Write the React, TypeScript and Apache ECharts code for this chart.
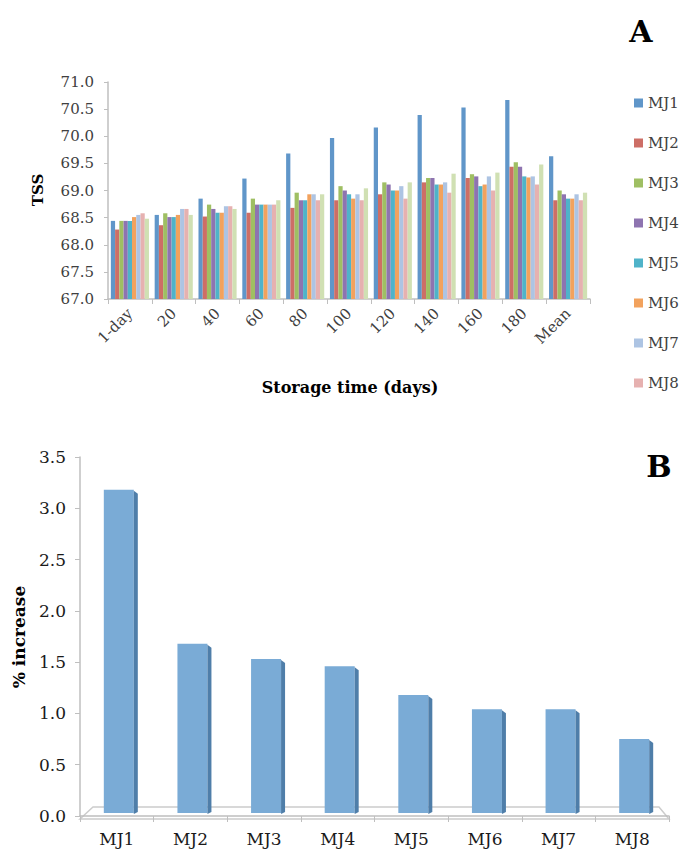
import React, { useEffect, useRef } from 'react';
import * as echarts from 'echarts';

// ---- Chart A data ----
const categoriesA = ['1-day', '20', '40', '60', '80', '100', '120', '140', '160', '180', 'Mean'];
const seriesNamesA = ['MJ1', 'MJ2', 'MJ3', 'MJ4', 'MJ5', 'MJ6', 'MJ7', 'MJ8', 'MJ9'];
const legendNamesA = ['MJ1', 'MJ2', 'MJ3', 'MJ4', 'MJ5', 'MJ6', 'MJ7', 'MJ8'];
const MJ1 = [68.44, 68.55, 68.85, 69.22, 69.68, 69.97, 70.16, 70.39, 70.53, 70.67, 69.63];
const MJ2 = [68.28, 68.36, 68.52, 68.59, 68.68, 68.82, 68.93, 69.15, 69.23, 69.44, 68.82];
const MJ3 = [68.44, 68.58, 68.74, 68.85, 68.96, 69.08, 69.15, 69.23, 69.3, 69.52, 69.0];
const MJ4 = [68.44, 68.51, 68.66, 68.74, 68.82, 69.0, 69.11, 69.23, 69.26, 69.44, 68.93];
const MJ5 = [68.44, 68.51, 68.59, 68.74, 68.82, 68.93, 69.0, 69.11, 69.08, 69.26, 68.85];
const MJ6 = [68.51, 68.55, 68.59, 68.74, 68.93, 68.85, 69.0, 69.11, 69.11, 69.24, 68.85];
const MJ7 = [68.55, 68.66, 68.71, 68.74, 68.93, 68.93, 69.08, 69.15, 69.26, 69.26, 68.93];
const MJ8 = [68.58, 68.66, 68.71, 68.74, 68.82, 68.82, 68.85, 68.96, 69.0, 69.11, 68.82];
const MJ9 = [68.48, 68.55, 68.66, 68.82, 68.93, 69.04, 69.15, 69.31, 69.33, 69.48, 68.96];
const valuesA = [MJ1, MJ2, MJ3, MJ4, MJ5, MJ6, MJ7, MJ8, MJ9];
const ticksA = { min: 67, max: 71, step: 0.5 };

// ---- Chart B data ----
const categoriesB = ['MJ1', 'MJ2', 'MJ3', 'MJ4', 'MJ5', 'MJ6', 'MJ7', 'MJ8'];
const increaseB = [3.18, 1.68, 1.53, 1.46, 1.18, 1.04, 1.04, 0.75];
const ticksB = { min: 0, max: 3.5, step: 0.5 };

const colorsA = ['#6096c9', '#cd6e66', '#9fbf63', '#8e74b0', '#4fb3c9', '#f2a25d', '#adc4e3', '#e6b1b0', '#d0e0b3'];
const FONT = '"DejaVu Serif", "Liberation Serif", serif';
const AXIS_GRAY = '#bfbfbf';

export default function App() {
  const ref = useRef<HTMLDivElement>(null);
  useEffect(() => {
    document.body.style.margin = '0';
    const chart = echarts.init(ref.current!, null, { renderer: 'svg' });

    const gridA = { left: 108, top: 82, width: 482, height: 217 };
    const gridB = { left: 80, top: 457, width: 589, height: 359 };
    const fy = gridB.top + gridB.height + 3;

    chart.setOption({
      animation: false,
      backgroundColor: '#ffffff',
      grid: [gridA, gridB],
      legend: {
        data: legendNamesA,
        orient: 'vertical',
        left: 629,
        top: 90,
        itemWidth: 9,
        itemHeight: 9,
        itemGap: 24,
        icon: 'rect',
        textStyle: { fontFamily: FONT, fontSize: 15, lineHeight: 16, color: '#404040' },
      },
      xAxis: [
        {
          type: 'category',
          gridIndex: 0,
          data: categoriesA,
          axisLine: { lineStyle: { color: AXIS_GRAY, width: 1.5 } },
          axisTick: { show: true, length: 5, lineStyle: { color: AXIS_GRAY } },
          axisLabel: { rotate: 45, margin: 12, fontFamily: FONT, fontSize: 15, color: '#404040', interval: 0 },
        },
        {
          type: 'category',
          gridIndex: 1,
          data: categoriesB,
          offset: 3,
          axisLine: { lineStyle: { color: AXIS_GRAY, width: 1.5 } },
          axisTick: { show: true, length: 6, lineStyle: { color: AXIS_GRAY } },
          axisLabel: { margin: 11, fontFamily: FONT, fontSize: 17, color: '#1a1a1a', interval: 0 },
        },
      ],
      yAxis: [
        {
          type: 'value',
          gridIndex: 0,
          min: ticksA.min,
          max: ticksA.max,
          interval: ticksA.step,
          axisLine: { show: true, lineStyle: { color: AXIS_GRAY, width: 1.5 } },
          axisTick: { show: true, length: 4, lineStyle: { color: AXIS_GRAY } },
          splitLine: { show: false },
          axisLabel: { margin: 14, fontFamily: FONT, fontSize: 15, color: '#404040', formatter: (v: number) => v.toFixed(1) },
        },
        {
          type: 'value',
          gridIndex: 1,
          min: ticksB.min,
          max: ticksB.max,
          interval: ticksB.step,
          axisLine: { show: true, lineStyle: { color: AXIS_GRAY, width: 1.5 } },
          axisTick: { show: true, length: 5, lineStyle: { color: AXIS_GRAY } },
          splitLine: { show: false },
          axisLabel: { margin: 14, fontFamily: FONT, fontSize: 17, color: '#1a1a1a', formatter: (v: number) => v.toFixed(1) },
        },
      ],
      series: [
        ...seriesNamesA.map((name, i) => ({
          name,
          type: 'bar',
          xAxisIndex: 0,
          yAxisIndex: 0,
          data: valuesA[i],
          barGap: '0%',
          barCategoryGap: '13%',
          itemStyle: { color: colorsA[i] },
        })),
        {
          name: '% increase',
          type: 'custom',
          xAxisIndex: 1,
          yAxisIndex: 1,
          data: increaseB.map((v, i) => [i, v]),
          encode: { x: 0, y: 1 },
          renderItem: (params: any, api: any) => {
            const top = api.coord([api.value(0), api.value(1)]);
            const base = api.coord([api.value(0), 0]);
            const fw = 30;
            const sd = 4;
            const fl = top[0] - 13;
            const ty = top[1];
            const by = base[1] - 3;
            return {
              type: 'group',
              children: [
                { type: 'rect', shape: { x: fl, y: ty, width: fw, height: by - ty }, style: { fill: '#7aabd6' } },
                {
                  type: 'polygon',
                  shape: { points: [[fl + fw, ty + 1], [fl + fw + sd, ty + 4], [fl + fw + sd, by - 1], [fl + fw, by + 1]] },
                  style: { fill: '#4f7ea9' },
                },
              ],
            };
          },
        },
      ],
      graphic: [
        {
          type: 'polygon',
          z: 0,
          shape: { points: [[gridB.left, fy], [gridB.left + 13, fy - 12], [gridB.left + gridB.width - 10, fy - 12], [gridB.left + gridB.width, fy]] },
          style: { fill: '#ffffff', stroke: '#cccccc', lineWidth: 1.5 },
        },
        { type: 'text', x: 641, y: 31, style: { text: 'A', font: 'bold 30px ' + FONT, fill: '#000', textAlign: 'center', textVerticalAlign: 'middle', align: 'center', verticalAlign: 'middle' } },
        { type: 'text', x: 659, y: 466, style: { text: 'B', font: 'bold 30px ' + FONT, fill: '#000', textAlign: 'center', textVerticalAlign: 'middle', align: 'center', verticalAlign: 'middle' } },
        { type: 'text', x: 38, y: 190, rotation: Math.PI / 2, style: { text: 'TSS', font: 'bold 15px ' + FONT, fill: '#000', textAlign: 'center', textVerticalAlign: 'middle', align: 'center', verticalAlign: 'middle' } },
        { type: 'text', x: 350, y: 387, style: { text: 'Storage time (days)', font: 'bold 16px ' + FONT, fill: '#000', textAlign: 'center', textVerticalAlign: 'middle', align: 'center', verticalAlign: 'middle' } },
        { type: 'text', x: 19, y: 637, rotation: Math.PI / 2, style: { text: '% increase', font: 'bold 17px ' + FONT, fill: '#000', textAlign: 'center', textVerticalAlign: 'middle', align: 'center', verticalAlign: 'middle' } },
      ],
    });
    return () => chart.dispose();
  }, []);
  return <div ref={ref} style={{ width: 679, height: 852 }} />;
}
